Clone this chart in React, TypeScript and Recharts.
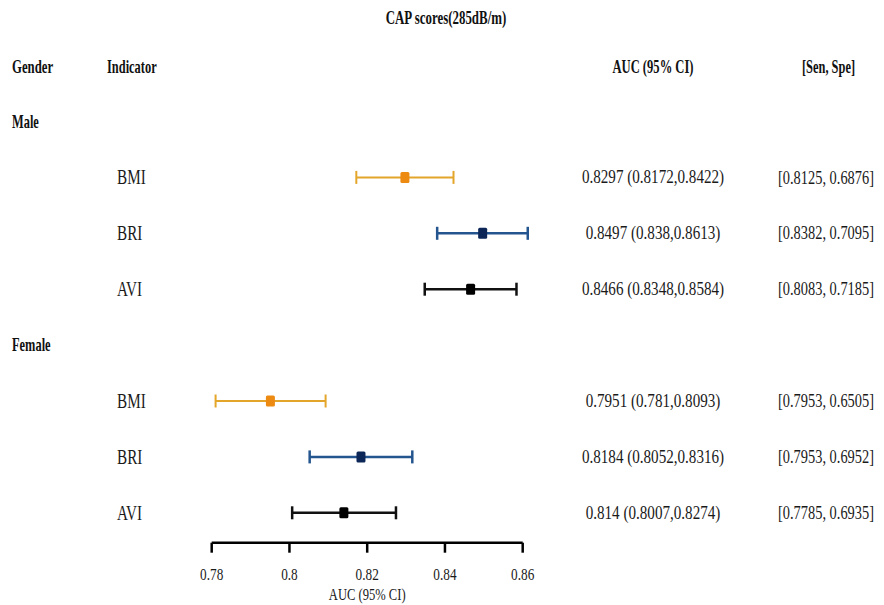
import React from 'react';
import { ScatterChart, Scatter, XAxis, YAxis, ErrorBar } from 'recharts';

const genders = ['Male', 'Female'];
const indicators = ['BMI', 'BRI', 'AVI'];

const maleAuc = [0.8297, 0.8497, 0.8466];
const maleLower = [0.8172, 0.838, 0.8348];
const maleUpper = [0.8422, 0.8613, 0.8584];
const maleSen = [0.8125, 0.8382, 0.8083];
const maleSpe = [0.6876, 0.7095, 0.7185];

const femaleAuc = [0.7951, 0.8184, 0.814];
const femaleLower = [0.781, 0.8052, 0.8007];
const femaleUpper = [0.8093, 0.8316, 0.8274];
const femaleSen = [0.7953, 0.7953, 0.7785];
const femaleSpe = [0.6505, 0.6952, 0.6935];

const xTicks = [0.78, 0.8, 0.82, 0.84, 0.86];

const LINE_COLORS = ['#E4A62A', '#24558F', '#111111'];
const BOX_COLORS = ['#EC8A12', '#0B2657', '#000000'];

const SERIF = '"Liberation Serif", "Times New Roman", serif';

const groups = [
    { auc: maleAuc, lo: maleLower, hi: maleUpper, sen: maleSen, spe: maleSpe },
    { auc: femaleAuc, lo: femaleLower, hi: femaleUpper, sen: femaleSen, spe: femaleSpe },
];

// one row for each gender header and each indicator under it
type Row = { kind: 'group' | 'item'; label: string; auc?: string; senSpe?: string };
const rows: Row[] = [];
genders.forEach((g, gi) => {
    rows.push({ kind: 'group', label: g });
    indicators.forEach((ind, i) => {
        const grp = groups[gi];
        rows.push({
            kind: 'item',
            label: ind,
            auc: `${grp.auc[i]} (${grp.lo[i]},${grp.hi[i]})`,
            senSpe: `[${grp.sen[i]}, ${grp.spe[i]}]`,
        });
    });
});

const seriesData = indicators.map((_, i) =>
    genders.map((__, gi) => {
        const grp = groups[gi];
        return {
            x: grp.auc[i],
            y: gi * (indicators.length + 1) + 1 + i,
            err: [grp.auc[i] - grp.lo[i], grp.hi[i] - grp.auc[i]],
        };
    })
);

// the source figure uses a narrow serif, so text is squeezed sideways
const Squeezed = ({ x, y, text, scale, size, bold, anchor = 'start', fill = '#111' }: any) => (
    <g transform={`translate(${x},${y}) scale(${scale},1)`}>
        <text
            textAnchor={anchor}
            dominantBaseline="central"
            fontFamily={SERIF}
            fontSize={size}
            fontWeight={bold ? 700 : 400}
            fill={fill}
        >
            {text}
        </text>
    </g>
);

const RowTick = ({ y, payload }: any) => {
    const row = rows[payload.value];
    if (!row) return null;
    if (row.kind === 'group') {
        return <Squeezed x={12} y={y} text={row.label} scale={0.69} size={18} bold />;
    }
    return (
        <g>
            <Squeezed x={117} y={y} text={row.label} scale={0.76} size={20} fill="#1a1a1a" />
            <Squeezed x={653} y={y} text={row.auc} scale={0.795} size={19} anchor="middle" fill="#1a1a1a" />
            <Squeezed x={826} y={y} text={row.senSpe} scale={0.758} size={19} anchor="middle" fill="#1a1a1a" />
        </g>
    );
};

const AxisTick = ({ x, y, payload }: any) => (
    <g transform={`translate(${x},${y}) scale(0.78,1)`}>
        <text textAnchor="middle" dy="0.71em" fontFamily={SERIF} fontSize={17} fill="#1a1a1a">
            {payload.value}
        </text>
    </g>
);

const makeBox = (color: string) => (props: any) => (
    <rect x={props.cx - 4.5} y={props.cy - 5.5} width={9} height={11} rx={1.5} fill={color} />
);

const App = () => {
    return (
        <div style={{ position: 'absolute', left: 0, top: 0, width: 884, height: 605, background: '#fff' }}>
            <style>{'.recharts-scatter, .recharts-errorBars { clip-path: none !important; }'}</style>
            <ScatterChart width={884} height={605} margin={{ top: 121.5, right: 361.3, bottom: 0, left: 0 }}>
                <XAxis
                    type="number"
                    dataKey="x"
                    domain={[0.78, 0.86]}
                    ticks={xTicks}
                    allowDataOverflow
                    height={62.3}
                    tickSize={10}
                    tickMargin={15}
                    axisLine={{ stroke: '#000', strokeWidth: 2.5 }}
                    tickLine={{ stroke: '#000', strokeWidth: 2.5 }}
                    tick={<AxisTick />}
                />
                <YAxis
                    type="number"
                    dataKey="y"
                    reversed
                    domain={[0, 7.535]}
                    ticks={rows.map((_, i) => i)}
                    interval={0}
                    allowDataOverflow
                    width={211.7}
                    axisLine={false}
                    tickLine={false}
                    tick={<RowTick />}
                />
                {indicators.map((ind, i) => (
                    <Scatter
                        key={ind}
                        name={ind}
                        data={seriesData[i]}
                        shape={makeBox(BOX_COLORS[i])}
                        isAnimationActive={false}
                    >
                        <ErrorBar
                            dataKey="err"
                            direction="x"
                            width={6.5}
                            stroke={LINE_COLORS[i]}
                            strokeWidth={i === 0 ? 2 : 2.5}
                            isAnimationActive={false}
                        />
                    </Scatter>
                ))}
                <g>
                    <Squeezed x={446} y={18} text="CAP scores(285dB/m)" scale={0.68} size={19} bold anchor="middle" />
                    <Squeezed x={12} y={67} text="Gender" scale={0.71} size={18} bold />
                    <Squeezed x={107} y={67} text="Indicator" scale={0.69} size={18} bold />
                    <Squeezed x={653} y={67} text="AUC (95% CI)" scale={0.7} size={18} bold anchor="middle" />
                    <Squeezed x={828.5} y={67} text="[Sen, Spe]" scale={0.69} size={18} bold anchor="middle" />
                    <Squeezed x={367.2} y={594} text="AUC (95% CI)" scale={0.74} size={17} anchor="middle" fill="#1a1a1a" />
                </g>
            </ScatterChart>
        </div>
    );
};

export default App;
